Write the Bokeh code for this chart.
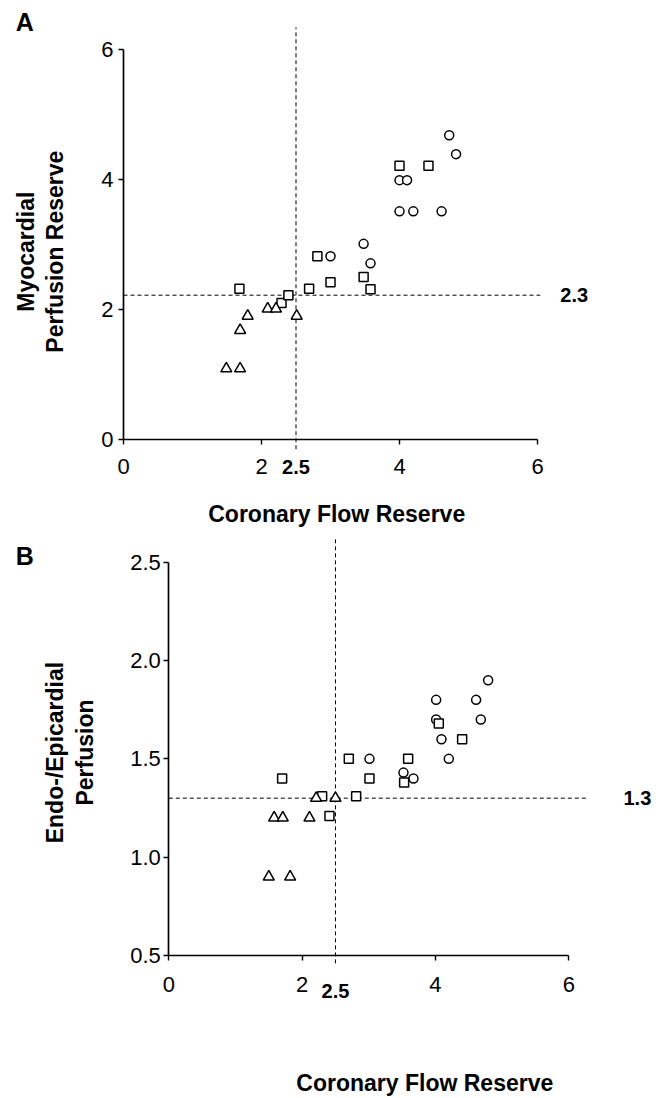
import math
from bokeh.plotting import figure
from bokeh.models import FixedTicker, Label, NumeralTickFormatter
from bokeh.layouts import column
from bokeh.embed import file_html
from bokeh.resources import INLINE

FONT = "Liberation Sans"

# ---- Panel A data: Coronary Flow Reserve vs Myocardial Perfusion Reserve
a_tri_x = [1.49, 1.69, 1.69, 1.80, 2.09, 2.21, 2.51]
a_tri_y = [1.09, 1.09, 1.68, 1.90, 2.01, 2.01, 1.90]
a_sq_x = [1.68, 2.29, 2.39, 2.69, 2.81, 3.00, 3.48, 3.58, 4.00, 4.42]
a_sq_y = [2.32, 2.10, 2.22, 2.32, 2.82, 2.42, 2.50, 2.31, 4.21, 4.21]
a_ci_x = [3.00, 3.48, 3.58, 4.00, 4.11, 4.00, 4.20, 4.61, 4.72, 4.82]
a_ci_y = [2.82, 3.01, 2.71, 3.99, 3.99, 3.51, 3.51, 3.51, 4.68, 4.39]
a_xticks = [0, 2, 4, 6]
a_yticks = [0, 2, 4, 6]
a_cut_x = 2.5
a_cut_y = 2.22
a_cut_y_label = "2.3"

# ---- Panel B data: Coronary Flow Reserve vs Endo-/Epicardial Perfusion
b_ci_x = [4.01, 4.01, 4.09, 4.20, 4.61, 4.68, 4.79, 3.01, 3.52, 3.67]
b_ci_y = [1.80, 1.70, 1.60, 1.50, 1.80, 1.70, 1.90, 1.50, 1.43, 1.40]
b_sq_x = [1.70, 2.30, 2.41, 2.70, 2.81, 3.01, 3.53, 3.59, 4.05, 4.40]
b_sq_y = [1.40, 1.31, 1.21, 1.50, 1.31, 1.40, 1.38, 1.50, 1.68, 1.60]
b_tri_x = [1.50, 1.82, 1.58, 1.71, 2.11, 2.21, 2.50]
b_tri_y = [0.90, 0.90, 1.20, 1.20, 1.20, 1.30, 1.30]
b_xticks = [0, 2, 4, 6]
b_yticks = [0.5, 1.0, 1.5, 2.0, 2.5]
b_cut_x = 2.5
b_cut_y = 1.3
b_cut_y_label = "1.3"

x_label = "Coronary Flow Reserve"

W = 652


def style_axes(p, xticks, yticks, xbounds, ybounds, yfmt=None):
    xa = p.xaxis[0]
    ya = p.yaxis[0]
    xa.fixed_location = ybounds[0]
    ya.fixed_location = xbounds[0]
    xa.ticker = FixedTicker(ticks=xticks)
    ya.ticker = FixedTicker(ticks=yticks)
    xa.bounds = xbounds
    ya.bounds = ybounds
    if yfmt:
        ya.formatter = NumeralTickFormatter(format=yfmt)
    for ax in (xa, ya):
        ax.axis_line_width = 1.7
        ax.axis_line_color = "black"
        ax.major_tick_line_color = "black"
        ax.major_tick_line_width = 1.4
        ax.major_tick_out = 5
        ax.major_tick_in = 0
        ax.minor_tick_out = 0
        ax.minor_tick_in = 0
        ax.major_label_text_font = FONT
        ax.major_label_text_font_size = "22px"
        ax.major_label_text_color = "black"
    xa.major_label_standoff = 14
    ya.major_label_standoff = 5
    p.xgrid.visible = False
    p.ygrid.visible = False
    p.outline_line_color = None


def add_points(p, cx, cy, sx, sy, tx, ty):
    p.scatter(cx, cy, marker="circle", size=9, line_color="black",
              line_width=1.5, fill_color="white")
    p.scatter(sx, sy, marker="square", size=9, line_color="black",
              line_width=1.5, fill_color="white")
    p.scatter(tx, ty, marker="triangle", size=11, line_color="black",
              line_width=1.5, fill_color="white")


def lab(p, x, y, text, size, bold=False, angle=0.0, align="center"):
    p.add_layout(Label(x=x, y=y, text=text, text_font=FONT,
                       text_font_size=size,
                       text_font_style="bold" if bold else "normal",
                       text_align=align, text_baseline="middle",
                       angle=angle, text_color="black"))


# ================= Panel A =================
# page mapping: x=0 at px 123, 69 px/unit; y=0 at px 439, 65 px/unit
HA = 538
ax0 = -123 / 69.0
ay0 = -(HA - 439) / 65.0
pa = figure(width=W, height=HA,
            x_range=(ax0, ax0 + W / 69.0), y_range=(ay0, ay0 + HA / 65.0),
            output_backend="svg", toolbar_location=None,
            min_border_left=0, min_border_right=0,
            min_border_top=0, min_border_bottom=0)
style_axes(pa, a_xticks, a_yticks, (0, 6), (0, 6))

pa.segment(x0=[a_cut_x], y0=[-0.15], x1=[a_cut_x], y1=[6.34], line_color="black",
           line_width=1, line_dash="4 3")
pa.segment(x0=[0], y0=[a_cut_y], x1=[6.04], y1=[a_cut_y], line_color="black",
           line_width=1, line_dash="4 3")
add_points(pa, a_ci_x, a_ci_y, a_sq_x, a_sq_y, a_tri_x, a_tri_y)

lab(pa, -1.43, 6.43, "A", "25px", bold=True)
lab(pa, -1.42, 2.89, "Myocardial", "23px", bold=True, angle=math.pi / 2)
lab(pa, -1.00, 2.89, "Perfusion Reserve", "23px", bold=True, angle=math.pi / 2)
lab(pa, 3.09, -1.14, x_label, "23px", bold=True)
lab(pa, a_cut_x, -0.43, "2.5", "20px", bold=True)
lab(pa, 6.33, a_cut_y, a_cut_y_label, "20px", bold=True, align="left")

# ================= Panel B =================
ppx = 200 / 3.0       # px per x unit
ppy = 196.65          # px per y unit
HB = 558
top_b = HA
bx0 = -168.3 / ppx
by0 = 0.5 - (top_b + HB - 955) / ppy
pb = figure(width=W, height=HB,
            x_range=(bx0, bx0 + W / ppx), y_range=(by0, by0 + HB / ppy),
            output_backend="svg", toolbar_location=None,
            min_border_left=0, min_border_right=0,
            min_border_top=0, min_border_bottom=0)
style_axes(pb, b_xticks, b_yticks, (0, 6), (0.5, 2.5), yfmt="0.0")
pb.yaxis[0].major_label_standoff = 3
pb.xaxis[0].major_label_standoff = 16

pb.segment(x0=[b_cut_x], y0=[0.46], x1=[b_cut_x], y1=[2.62], line_color="black",
           line_width=1, line_dash="4 3")
pb.segment(x0=[0], y0=[b_cut_y], x1=[6.28], y1=[b_cut_y], line_color="black",
           line_width=1, line_dash="4 3")
add_points(pb, b_ci_x, b_ci_y, b_sq_x, b_sq_y, b_tri_x, b_tri_y)

lab(pb, -2.16, 2.53, "B", "25px", bold=True)
lab(pb, -1.70, 1.532, "Endo-/Epicardial", "23px", bold=True, angle=math.pi / 2)
lab(pb, -1.25, 1.532, "Perfusion", "23px", bold=True, angle=math.pi / 2)
lab(pb, 3.84, -0.15, x_label, "23px", bold=True)
lab(pb, b_cut_x, 0.322, "2.5", "20px", bold=True)
lab(pb, 6.82, b_cut_y, b_cut_y_label, "20px", bold=True, align="left")

layout = column(pa, pb, spacing=0)
open("out.html", "w").write(file_html(layout, INLINE))
